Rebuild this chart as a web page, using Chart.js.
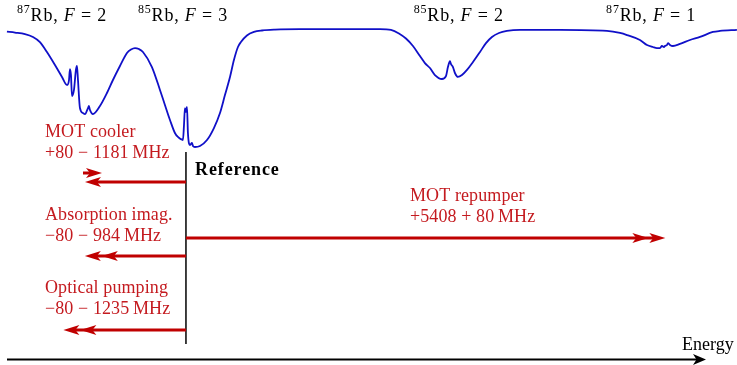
<!DOCTYPE html>
<html>
<head>
<meta charset="utf-8">
<script src="https://cdn.jsdelivr.net/npm/chart.js@4"></script>
<style>
  html, body { margin: 0; padding: 0; background: #fff; }
  #wrap { width: 737px; height: 365px; position: relative; }
</style>
</head>
<body>
<div id="wrap"><canvas id="spectrum"></canvas></div>
<script>
// Saturated absorption trace, detuning measured from the 85Rb F=3 reference (MHz)
const detuning = [-2094, -2000, -1883, -1789, -1708, -1626, -1532, -1450, -1392, -1368,
  -1357, -1345, -1333, -1310, -1287, -1275, -1263, -1240, -1205, -1181,
  -1146, -1135, -1123, -1088, -1006, -924, -854, -772, -690, -643,
  -596, -550, -503, -398, -304, -246, -187, -129, -94, -35,
  -23, -12, 0, 12, 23, 47, 70, 82, 105, 164,
  246, 327, 398, 456, 515, 561, 608, 643, 713, 795,
  889, 1041, 1333, 1918, 2269, 2398, 2491, 2573, 2655, 2737,
  2795, 2854, 2912, 2994, 3041, 3064, 3088, 3099, 3123, 3146,
  3181, 3228, 3287, 3357, 3439, 3509, 3579, 3661, 3754, 3906,
  4374, 4924, 5076, 5158, 5310, 5392, 5462, 5509, 5544, 5567,
  5591, 5602, 5626, 5638, 5661, 5696, 5778, 5895, 6012, 6164,
  6246, 6444];
const transmission = [0.983, 0.977, 0.967, 0.947, 0.912, 0.844, 0.755, 0.673, 0.618, 0.652,
  0.727, 0.686, 0.542, 0.584, 0.721, 0.748, 0.652, 0.460, 0.426, 0.419,
  0.460, 0.474, 0.447, 0.419, 0.474, 0.563, 0.652, 0.748, 0.837, 0.861,
  0.871, 0.864, 0.844, 0.741, 0.584, 0.481, 0.378, 0.289, 0.262, 0.241,
  0.344, 0.460, 0.433, 0.467, 0.289, 0.207, 0.221, 0.200, 0.193, 0.200,
  0.241, 0.323, 0.426, 0.549, 0.673, 0.789, 0.878, 0.912, 0.957, 0.981,
  0.991, 0.997, 1.0, 1.0, 1.0, 0.995, 0.971, 0.936, 0.885, 0.816,
  0.768, 0.734, 0.686, 0.659, 0.679, 0.741, 0.782, 0.762, 0.741, 0.700,
  0.673, 0.686, 0.721, 0.775, 0.844, 0.905, 0.947, 0.974, 0.988, 0.995,
  0.995, 0.988, 0.974, 0.960, 0.926, 0.892, 0.878, 0.871, 0.871, 0.885,
  0.878, 0.885, 0.892, 0.905, 0.892, 0.885, 0.899, 0.926, 0.947, 0.981,
  0.988, 0.995];

// Hyperfine lines named above the trace
const lineIsotope = ['87', '85', '85', '87'];
const lineF = ['2', '3', '2', '1'];
const lineCentre = [-1450, -35, 3190, 5440];

// Laser beams: shift of the main offset and of the AOM (MHz)
const beamName = ['MOT cooler', 'Absorption imag.', 'Optical pumping', 'MOT repumper'];
const beamText = ['+80 \u2212 1181\u2009MHz', '\u221280 \u2212 984\u2009MHz', '\u221280 \u2212 1235\u2009MHz', '+5408 + 80\u2009MHz'];
const beamShift = [-1181, -984, -1235, 5408];
const aomShift = [80, -80, -80, 80];

const SERIF = '"Liberation Serif", "DejaVu Serif", serif';
const RED_TEXT = '#c41a1f';
const RED_ARROW = '#c00000';

function runsWidth(ctx, runs) {
  let w = 0;
  runs.forEach(r => { ctx.font = r.font; w += ctx.measureText(r.t).width; });
  return w;
}

function drawRuns(ctx, x, y, runs) {
  runs.forEach(r => {
    ctx.font = r.font;
    ctx.fillText(r.t, x, y + (r.dy || 0));
    x += ctx.measureText(r.t).width;
  });
}

function head(ctx, tip, y, dir, len = 16, half = 5, notch = 4) {
  ctx.beginPath();
  ctx.moveTo(tip, y);
  ctx.lineTo(tip - dir * len, y - half);
  ctx.lineTo(tip - dir * (len - notch), y);
  ctx.lineTo(tip - dir * len, y + half);
  ctx.closePath();
  ctx.fill();
}

function shaft(ctx, from, to, y, width) {
  ctx.beginPath();
  ctx.lineWidth = width;
  ctx.moveTo(from, y);
  ctx.lineTo(to, y);
  ctx.stroke();
}

const annotations = {
  id: 'annotations',
  afterDatasetsDraw(chart) {
    const ctx = chart.ctx;
    const xs = chart.scales.x;
    const x0 = xs.getPixelForValue(0);
    ctx.save();
    ctx.textBaseline = 'alphabetic';

    // line names above the trace
    ctx.fillStyle = '#000';
    ctx.letterSpacing = '0.8px';
    lineCentre.forEach((c, i) => {
      const runs = [
        { t: lineIsotope[i], font: '12px ' + SERIF, dy: -8 },
        { t: 'Rb, ', font: '18px ' + SERIF },
        { t: 'F', font: 'italic 18px ' + SERIF },
        { t: ' = ' + lineF[i], font: '18px ' + SERIF }
      ];
      const w = runsWidth(ctx, runs);
      drawRuns(ctx, xs.getPixelForValue(c) - w / 2, 21, runs);
    });

    // reference line
    ctx.strokeStyle = '#000';
    ctx.lineWidth = 1.5;
    ctx.beginPath();
    ctx.moveTo(x0, 152);
    ctx.lineTo(x0, 344);
    ctx.stroke();
    ctx.letterSpacing = '0.9px';
    ctx.font = 'bold 18px ' + SERIF;
    ctx.fillText('Reference', 195, 175);
    ctx.letterSpacing = '0px';

    // energy axis
    shaft(ctx, 7, 697, 359.5, 1.8);
    head(ctx, 706, 359.5, 1, 13, 5.5, 3.5);
    ctx.font = '18px ' + SERIF;
    ctx.fillText('Energy', 682, 350);

    // beam arrows
    const rows = [182, 256, 330, 238];
    const labelAt = [[45, 137], [45, 220], [45, 293], [410, 201]];
    ctx.strokeStyle = RED_ARROW;
    ctx.letterSpacing = '0.1px';
    beamShift.forEach((s, i) => {
      const y = rows[i];
      const dir = Math.sign(s);
      const tip = xs.getPixelForValue(s);
      const aomPx = Math.max(Math.abs(xs.getPixelForValue(aomShift[i]) - x0), 17);
      ctx.fillStyle = RED_ARROW;
      if (Math.sign(aomShift[i]) === dir) {
        const tip2 = tip + dir * aomPx;
        shaft(ctx, x0, tip2 - dir * 8, y, 3);
        head(ctx, tip, y, dir);
        head(ctx, tip2, y, dir);
      } else {
        shaft(ctx, x0, tip - dir * 8, y, 3);
        head(ctx, tip, y, dir);
        const back = tip - dir * aomPx;
        shaft(ctx, tip + dir * 2, back + dir * 8, y - 9, 3);
        head(ctx, back, y - 9, -dir);
      }
      ctx.fillStyle = RED_TEXT;
      ctx.font = '18px ' + SERIF;
      ctx.fillText(beamName[i], labelAt[i][0], labelAt[i][1]);
      ctx.fillText(beamText[i], labelAt[i][0], labelAt[i][1] + 21);
    });
    ctx.restore();
  }
};

new Chart(document.getElementById('spectrum'), {
  type: 'line',
  data: {
    datasets: [{
      data: detuning.map((d, i) => ({ x: d, y: transmission[i] })),
      borderColor: '#1010c8',
      borderWidth: 1.8,
      pointRadius: 0,
      cubicInterpolationMode: 'monotone',
      fill: false
    }]
  },
  options: {
    responsive: true,
    maintainAspectRatio: false,
    animation: false,
    layout: { padding: 0 },
    plugins: { legend: { display: false }, tooltip: { enabled: false } },
    scales: {
      x: { type: 'linear', min: -2175, max: 6445, display: false },
      y: { type: 'linear', min: -1.3, max: 1.2, display: false }
    }
  },
  plugins: [annotations]
});
</script>
</body>
</html>
